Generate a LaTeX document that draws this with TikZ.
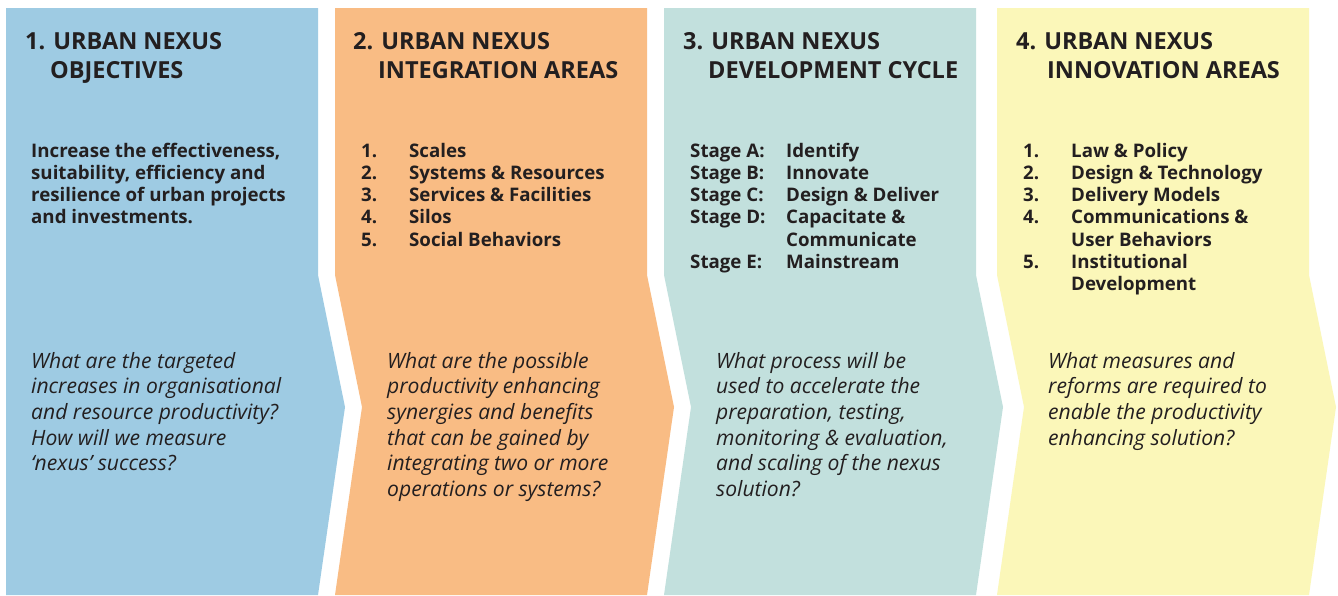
\documentclass[tikz,border=0pt]{standalone}
\usepackage{fontspec}
\setmainfont{Open Sans}
\definecolor{cblue}{HTML}{9ECBE3}
\definecolor{corange}{HTML}{F9BC84}
\definecolor{cteal}{HTML}{C2E0DD}
\definecolor{cyellow}{HTML}{FBF7B9}
\definecolor{ink}{HTML}{231F20}
\begin{document}
\begin{tikzpicture}[x=1pt,y=-1pt,
  title/.style={anchor=base west,inner sep=0pt,text=ink,font=\fontsize{23.5}{29}\selectfont\bfseries},
  body/.style={anchor=base west,inner sep=0pt,text=ink,font=\fontsize{18.7}{22.3}\selectfont\bfseries},
  question/.style={anchor=base west,inner sep=0pt,text=ink,font=\fontsize{21.1}{25.7}\selectfont\itshape}]
\useasboundingbox (0,0) rectangle (1338,595);
\fill[white] (0,0) rectangle (1338,595);
% chevrons
\fill[cblue] (6,8) -- (318,8) -- (318,275) -- (345,407) -- (318,595) -- (6,595) -- cycle;
\fill[corange] (335,8) -- (647,8) -- (647,275) -- (674,407) -- (647,595) -- (335,595) -- (362,407) -- (335,275) -- cycle;
\fill[cteal] (664,8) -- (976,8) -- (976,275) -- (1003,407) -- (976,595) -- (664,595) -- (691,407) -- (664,275) -- cycle;
\fill[cyellow] (997,8) -- (1309,8) -- (1309,275) -- (1336,407) -- (1309,595) -- (997,595) -- (1024,407) -- (997,275) -- cycle;
% titles
\node[title] (t1) at (25,49) {\begin{tabular}[t]{@{}l@{}}1. URBAN NEXUS\\\hspace{25pt}OBJECTIVES\end{tabular}};
\node[title] (t2) at (353,49) {\begin{tabular}[t]{@{}l@{}}2. URBAN NEXUS\\\hspace{25pt}INTEGRATION AREAS\end{tabular}};
\node[title] (t3) at (683,49) {\begin{tabular}[t]{@{}l@{}}3. URBAN NEXUS\\\hspace{25pt}DEVELOPMENT CYCLE\end{tabular}};
\node[title] (t4) at (1016,49) {\begin{tabular}[t]{@{}l@{}}4. URBAN NEXUS\\\hspace{31pt}INNOVATION AREAS\end{tabular}};
% bodies
\node[body] (b1) at (31,157) {\begin{tabular}[t]{@{}l@{}}Increase the effectiveness,\\suitability, efficiency and\\resilience of urban projects\\and investments.\end{tabular}};
\node[body] (b2) at (361,157) {\begin{tabular}[t]{@{}p{48pt}@{}l@{}}1.&Scales\\2.&Systems \& Resources\\3.&Services \& Facilities\\4.&Silos\\5.&Social Behaviors\end{tabular}};
\node[body] (b3) at (690,157) {\begin{tabular}[t]{@{}p{96pt}@{}l@{}}Stage A:&Identify\\Stage B:&Innovate\\Stage C:&Design \& Deliver\\Stage D:&Capacitate \&\\&Communicate\\Stage E:&Mainstream\end{tabular}};
\node[body] (b4) at (1023,157) {\begin{tabular}[t]{@{}p{48pt}@{}l@{}}1.&Law \& Policy\\2.&Design \& Technology\\3.&Delivery Models\\4.&Communications \&\\&User Behaviors\\5.&Institutional\\&Development\end{tabular}};
% questions
\node[question] (q1) at (31,368) {\begin{tabular}[t]{@{}l@{}}What are the targeted\\increases in organisational\\and resource productivity?\\How will we measure\\‘nexus’ success?\end{tabular}};
\node[question] (q2) at (387,368) {\begin{tabular}[t]{@{}l@{}}What are the possible\\productivity enhancing\\synergies and benefits\\that can be gained by\\integrating two or more\\operations or systems?\end{tabular}};
\node[question] (q3) at (716,368) {\begin{tabular}[t]{@{}l@{}}What process will be\\used to accelerate the\\preparation, testing,\\monitoring \& evaluation,\\and scaling of the nexus\\solution?\end{tabular}};
\node[question] (q4) at (1048,368) {\begin{tabular}[t]{@{}l@{}}What measures and\\reforms are required to\\enable the productivity\\enhancing solution?\end{tabular}};
\end{tikzpicture}
\end{document}
